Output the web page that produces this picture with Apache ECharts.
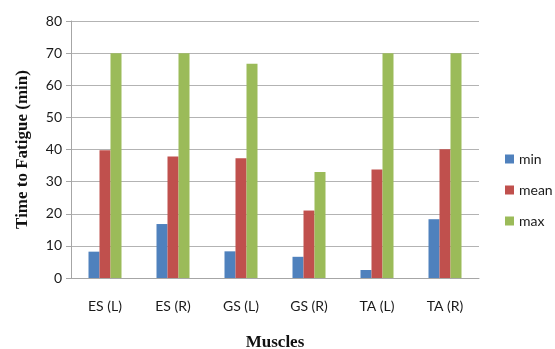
<!DOCTYPE html>
<html><head><meta charset="utf-8">
<script src="https://cdn.jsdelivr.net/npm/echarts@6/dist/echarts.min.js"></script>
<style>html,body{margin:0;padding:0;background:#fff}#c{width:555px;height:349px}</style>
</head><body><div id="c"></div>
<script>
var categories = ['ES (L)', 'ES (R)', 'GS (L)', 'GS (R)', 'TA (L)', 'TA (R)'];
var minVals = [8.2, 16.8, 8.3, 6.6, 2.5, 18.3];
var meanVals = [39.8, 37.8, 37.3, 21.0, 33.8, 40.1];
var maxVals = [70, 70, 66.7, 33.0, 70, 70];
var seriesNames = ['min', 'mean', 'max'];
var colors = ['#4F81BD', '#C0504D', '#9BBB59'];

var chart = echarts.init(document.getElementById('c'));
var lab = {fontFamily: 'Lato', fontSize: 14, color: '#1a1a1a'};
chart.setOption({
  animation: false,
  grid: {left: 71, right: 76, top: 21, bottom: 71, outerBoundsMode: 'none', containLabel: false},
  legend: {
    orient: 'vertical', left: 500, top: 147, itemGap: 17,
    itemWidth: 9, itemHeight: 9, icon: 'rect',
    textStyle: {fontFamily: 'Lato', fontSize: 14, color: '#1a1a1a'},
    data: seriesNames
  },
  xAxis: {
    type: 'category', data: categories,
    name: 'Muscles', nameLocation: 'middle', nameGap: 56,
    nameTextStyle: {fontFamily: 'Liberation Serif', fontWeight: 'bold', fontSize: 17, color: '#111'},
    axisLine: {lineStyle: {color: '#a6a6a6', width: 1}},
    axisTick: {show: false},
    axisLabel: Object.assign({margin: 21}, lab)
  },
  yAxis: {
    type: 'value', min: 0, max: 80, interval: 10,
    name: 'Time to Fatigue (min)', nameLocation: 'middle', nameGap: 40,
    nameTextStyle: {fontFamily: 'Liberation Serif', fontWeight: 'bold', fontSize: 17, color: '#111'},
    axisLine: {show: true, lineStyle: {color: '#a6a6a6'}},
    axisTick: {show: true, length: 5, lineStyle: {color: '#a6a6a6'}},
    splitLine: {lineStyle: {color: '#b3b3b3'}},
    axisLabel: Object.assign({margin: 9}, lab)
  },
  series: [minVals, meanVals, maxVals].map(function (d, i) {
    return {name: seriesNames[i], type: 'bar', data: d, barWidth: 11, barGap: '0%',
      itemStyle: {color: colors[i]}};
  })
});
</script></body></html>
